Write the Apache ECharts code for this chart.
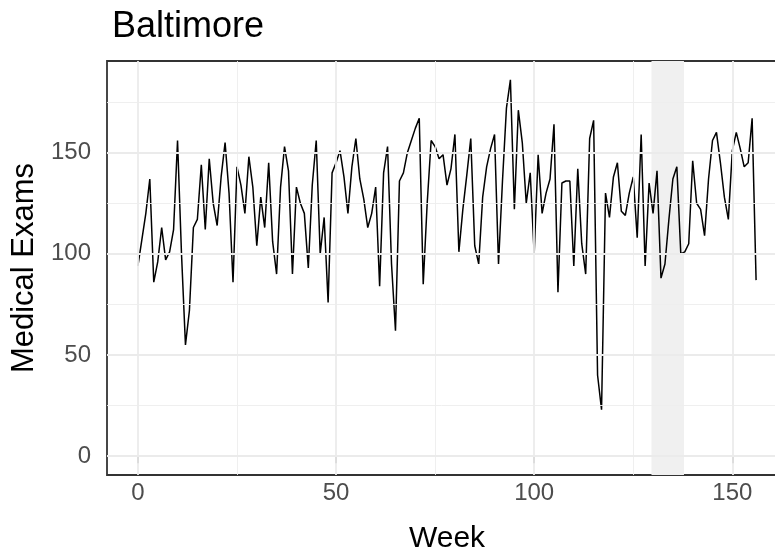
<!DOCTYPE html>
<html>
<head>
<meta charset="utf-8">
<script src="https://cdn.jsdelivr.net/npm/echarts@6/dist/echarts.min.js"></script>
<style>
html,body{margin:0;padding:0;background:#fff;}
#chart{width:775px;height:554px;}
</style>
</head>
<body>
<div id="chart"></div>
<script>
// ---- data ----
const chartTitle = 'Baltimore';
const xTitle = 'Week';
const yTitle = 'Medical Exams';
const weeks = [];
for (let i = 0; i <= 156; i++) weeks.push(i);
const exams = [
  94,107,120,137,86,96,113,97,101,112,
  156,100,55,72,113,117,144,112,147,125,
  114,138,155,130,86,143,134,120,148,133,
  104,128,113,145,106,90,133,153,141,90,
  133,125,120,93,134,156,100,118,76,140,
  145,151,138,120,143,157,137,127,113,120,
  133,84,140,153,95,62,136,140,150,156,
  162,167,85,125,156,153,147,149,134,142,
  159,101,122,139,157,104,95,128,143,152,
  159,95,136,172,186,122,171,155,125,140,
  100,149,120,130,137,164,81,135,136,136,
  94,142,105,90,157,166,40,23,130,118,
  138,145,121,119,130,138,108,159,94,135,
  120,141,88,95,117,137,143,100,101,105,
  146,125,122,109,137,156,160,145,128,117,
  151,160,152,143,145,167,87
];
const shadeStart = 129.6;
const shadeEnd = 137.8;
const xTicks = [0, 50, 100, 150];
const xMinor = [25, 75, 125];
const yTicks = [0, 50, 100, 150];
const yMinor = [25, 75, 125, 175];
const xRange = [-7.8, 163.8];
const yRange = [-9.3, 195.3];

const FONT = '"Liberation Sans", Arial, sans-serif';
const chart = echarts.init(document.getElementById('chart'), null, {renderer: 'canvas'});

const gridLines = [];
xTicks.forEach(v => gridLines.push({xAxis: v, lineStyle: {color: '#ebebeb', width: 1.8, type: 'solid'}}));
xMinor.forEach(v => gridLines.push({xAxis: v, lineStyle: {color: '#ededed', width: 0.9, type: 'solid'}}));
yTicks.forEach(v => gridLines.push({yAxis: v, lineStyle: {color: '#ebebeb', width: 1.8, type: 'solid'}}));
yMinor.forEach(v => gridLines.push({yAxis: v, lineStyle: {color: '#ededed', width: 0.9, type: 'solid'}}));

chart.setOption({
  animation: false,
  backgroundColor: '#ffffff',
  title: {
    text: chartTitle,
    left: 107, top: 4,
    textStyle: {fontFamily: FONT, fontSize: 36, fontWeight: 'normal', color: '#000'}
  },
  grid: {
    left: 107, top: 61, width: 680, height: 414,
    outerBoundsMode: 'none', containLabel: false,
    show: true, borderColor: '#333333', borderWidth: 1.8, backgroundColor: 'transparent'
  },
  xAxis: {
    type: 'value', min: xRange[0], max: xRange[1],
    name: xTitle, nameLocation: 'middle', nameGap: 49,
    nameTextStyle: {fontFamily: FONT, fontSize: 30, color: '#000'},
    axisLine: {show: false},
    axisTick: {show: true, customValues: xTicks, length: 7, lineStyle: {color: '#333333', width: 1.6}},
    axisLabel: {customValues: xTicks, margin: 6, fontFamily: FONT, fontSize: 24, color: '#4d4d4d'},
    splitLine: {show: false}
  },
  yAxis: {
    type: 'value', min: yRange[0], max: yRange[1],
    name: yTitle, nameLocation: 'middle', nameGap: 65,
    nameTextStyle: {fontFamily: FONT, fontSize: 31, color: '#000'},
    axisLine: {show: false},
    axisTick: {show: true, customValues: yTicks, length: 7, lineStyle: {color: '#333333', width: 1.6}},
    axisLabel: {customValues: yTicks, margin: 16, fontFamily: FONT, fontSize: 24, color: '#4d4d4d'},
    splitLine: {show: false}
  },
  series: [
    {
      type: 'line', data: [], z: 1, silent: true,
      markLine: {silent: true, symbol: ['none', 'none'], label: {show: false}, animation: false, data: gridLines}
    },
    {
      type: 'line', z: 3,
      data: weeks.map((w, i) => [w, exams[i]]),
      showSymbol: false, symbol: 'none',
      lineStyle: {color: '#000', width: 1.5},
      markArea: {
        silent: true,
        itemStyle: {color: '#f0f0f0'},
        data: [[{xAxis: shadeStart}, {xAxis: shadeEnd}]]
      }
    }
  ]
});
</script>
</body>
</html>
